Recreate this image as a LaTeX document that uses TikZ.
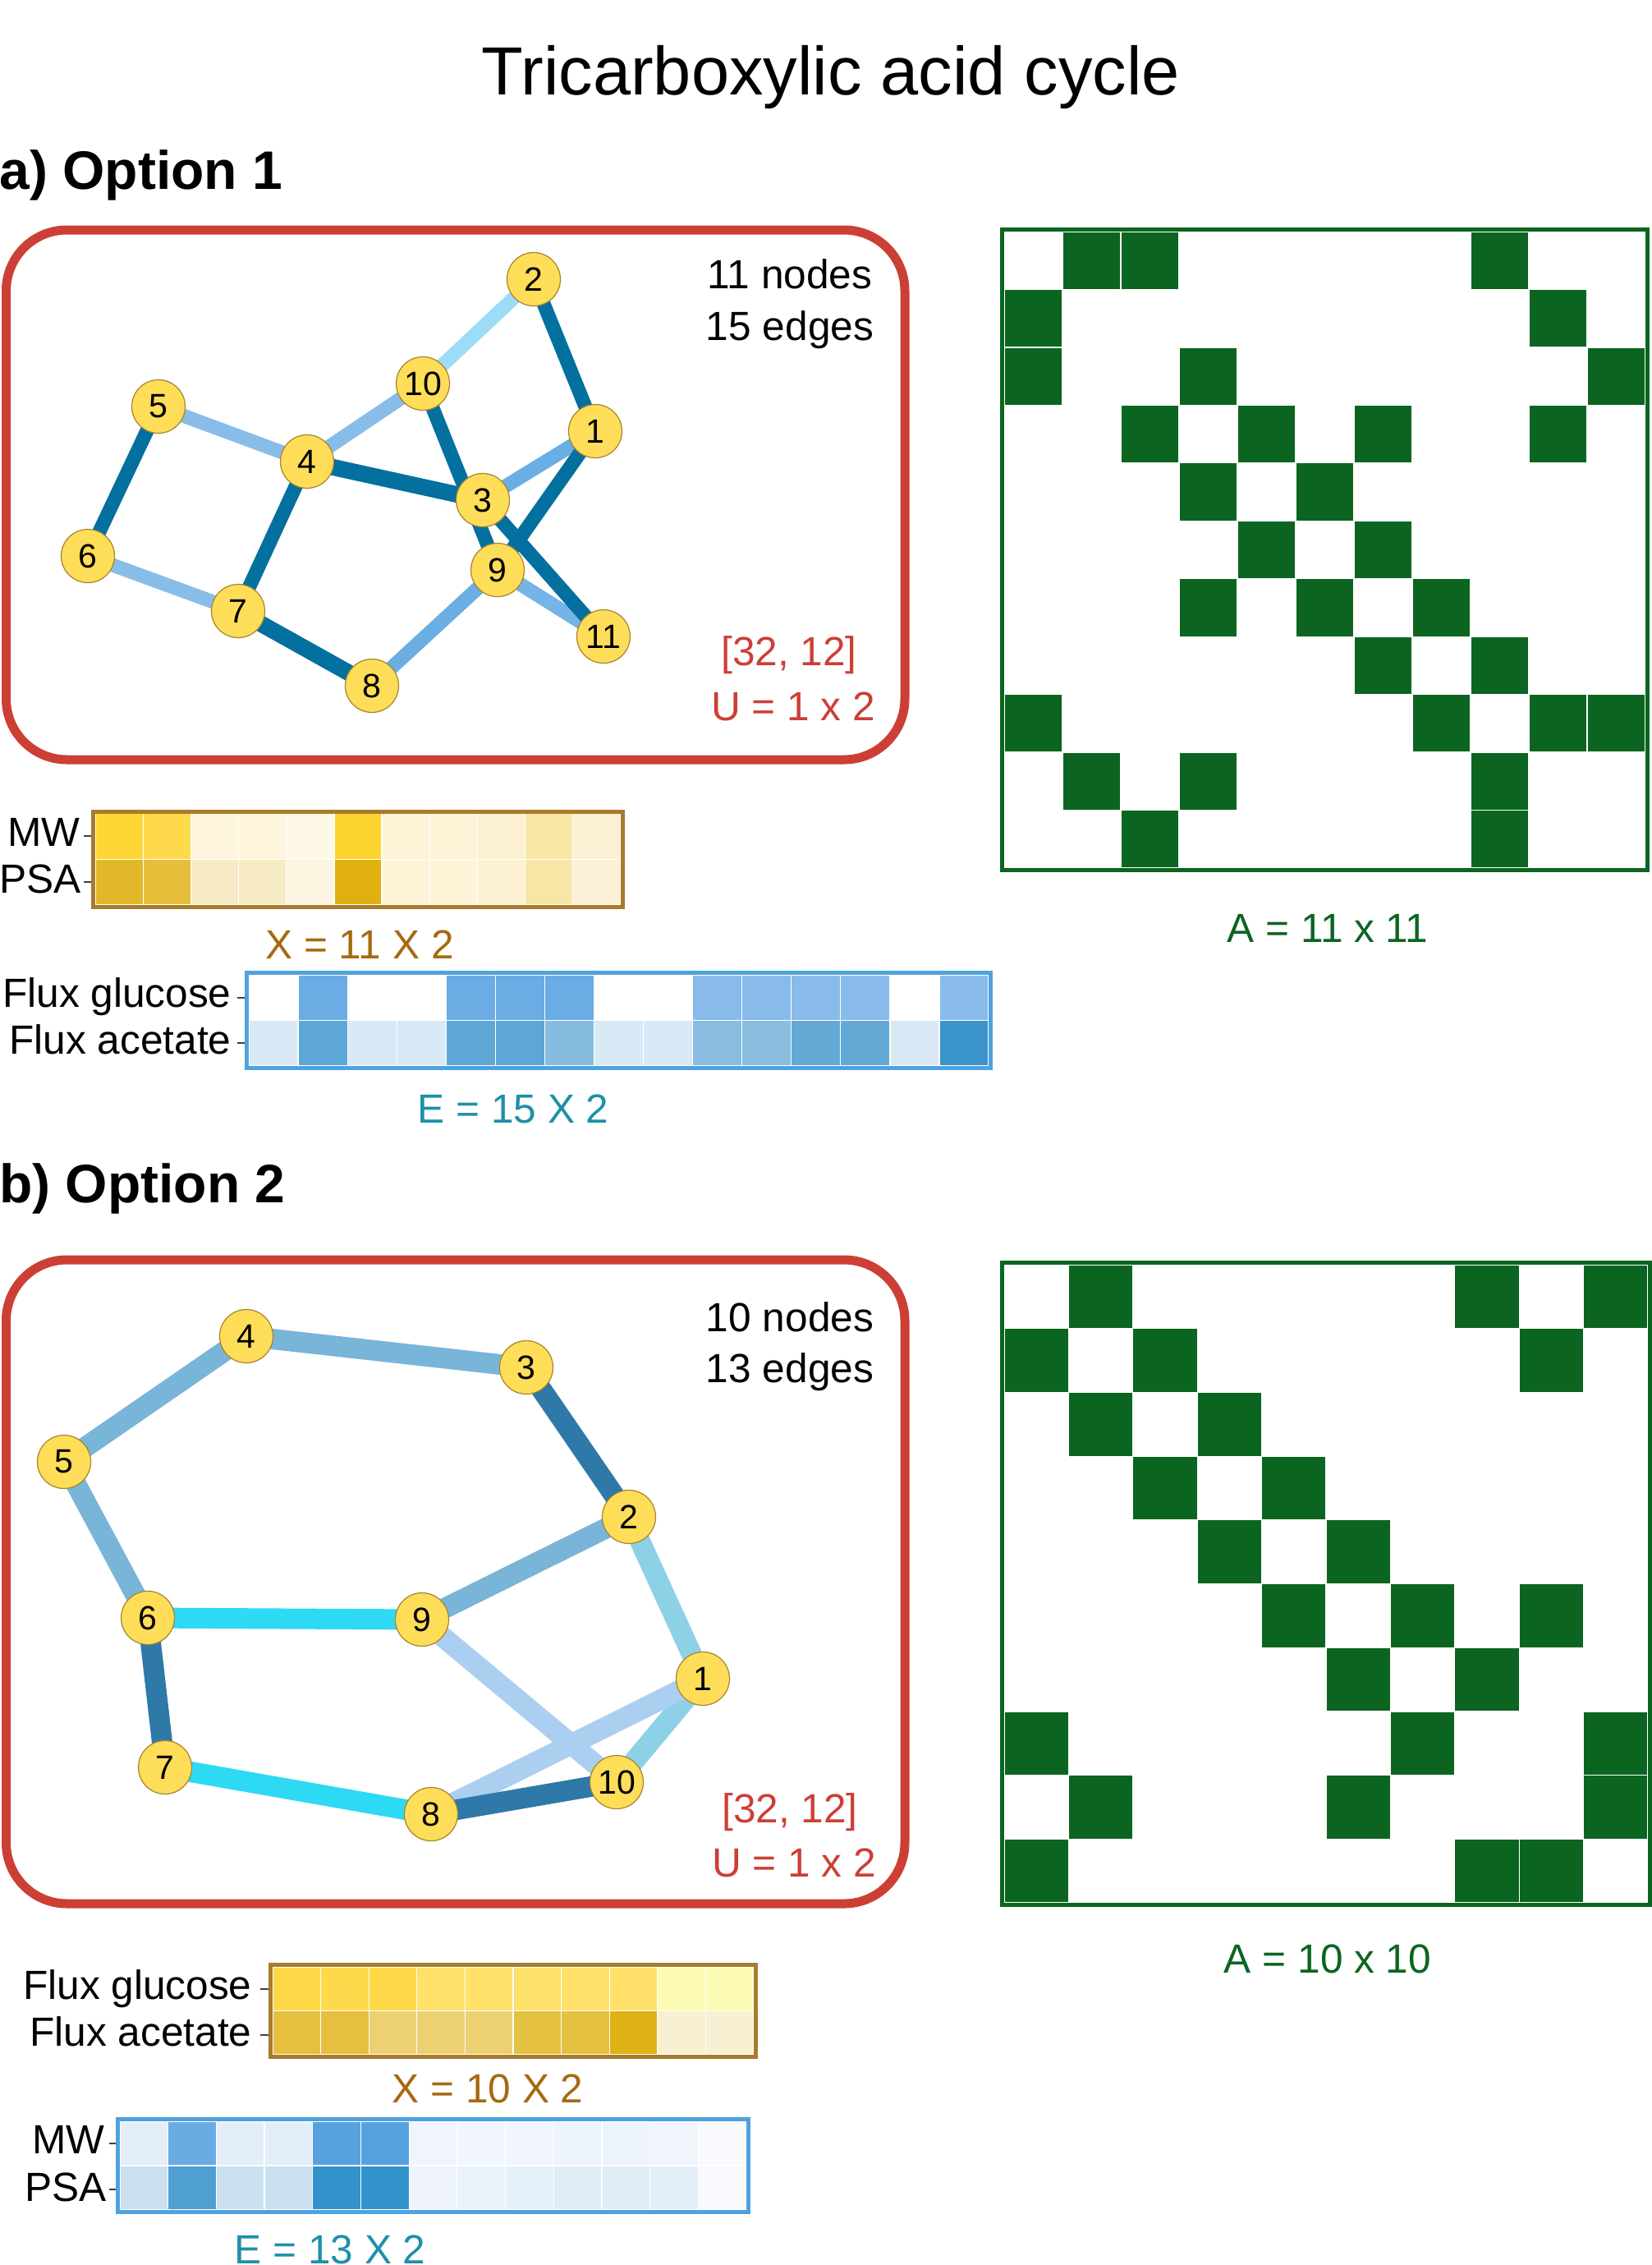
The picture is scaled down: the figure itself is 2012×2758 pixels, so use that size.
\documentclass[tikz,border=0pt]{standalone}
\usepackage{fontspec}
\setmainfont{Liberation Sans}
\definecolor{boxred}{HTML}{CC3F35}
\definecolor{nfill}{HTML}{FEDD58}
\definecolor{nline}{HTML}{A8822E}
\definecolor{edark}{HTML}{03709F}
\definecolor{elight}{HTML}{88BDE9}
\definecolor{emid}{HTML}{6AAEE3}
\definecolor{emid2}{HTML}{76B3E6}
\definecolor{esky}{HTML}{9DDCF6}
\definecolor{bdark}{HTML}{2E79A8}
\definecolor{bmid}{HTML}{78B5D9}
\definecolor{bcyan}{HTML}{2ED9F3}
\definecolor{blight}{HTML}{ABCFF0}
\definecolor{blcyan}{HTML}{8DD1E6}
\definecolor{matgreen}{HTML}{0B6520}
\definecolor{xborder}{HTML}{A97B2C}
\definecolor{eborder}{HTML}{4FA2E0}
\definecolor{xlab}{HTML}{A56A10}
\definecolor{elab}{HTML}{1E90A8}
\pgfdeclarelayer{edgelayer}
\pgfsetlayers{edgelayer,main}
\tikzset{
  txt/.style={inner sep=0pt, font=\fontsize{24.8}{28}\selectfont},
  gnode/.style={circle, fill=nfill, draw=nline, line width=0.6pt, minimum size=32.5pt, inner sep=0pt, font=\fontsize{20.5}{24}\selectfont},
  topedge/.style={line width=8.5pt},
  thickedge/.style={line width=10pt},
  botedge/.style={line width=12.5pt},
  redbox/.style={draw=boxred, line width=5.5pt, rounded corners=37pt},
  cellw/.style={draw=white, line width=0.6pt},
  matcell/.style={fill=matgreen, draw=white, line width=0.6pt},
  tickmark/.style={draw=black!75, line width=0.75pt},
}
\begin{document}
\begin{tikzpicture}[x=0.5pt,y=-0.5pt]
\useasboundingbox (0,0) rectangle (2012,2758);

% ---------- titles ----------
\node[inner sep=0pt, font=\fontsize{41.5}{48}\selectfont, anchor=base] (title) at (1012,115) {Tricarboxylic acid cycle};
\node[inner sep=0pt, font=\bfseries\fontsize{33}{38}\selectfont, anchor=base west] (secA) at (-1,230) {a) Option 1};
\node[inner sep=0pt, font=\bfseries\fontsize{33}{38}\selectfont, anchor=base west] (secB) at (-1,1464) {b) Option 2};

% ---------- section a: graph ----------
\draw[redbox] (7.5,280) rectangle (1102,925);
\node[gnode] (t1) at (725,525) {1};
\node[gnode] (t2) at (650,340) {2};
\node[gnode] (t3) at (588,609) {3};
\node[gnode] (t4) at (374,562) {4};
\node[gnode] (t5) at (193,495) {5};
\node[gnode] (t6) at (107,677) {6};
\node[gnode] (t7) at (290,744) {7};
\node[gnode] (t8) at (453,835) {8};
\node[gnode] (t9) at (606,694) {9};
\node[gnode] (t10) at (515,467) {10};
\node[gnode] (t11) at (735,775) {11};
\begin{pgfonlayer}{edgelayer}
  \draw[topedge, esky] (t2.center) -- (t10.center);
  \draw[topedge, elight] (t4.center) -- (t10.center);
  \draw[topedge, elight] (t4.center) -- (t5.center);
  \draw[topedge, elight] (t6.center) -- (t7.center);
  \draw[topedge, emid] (t1.center) -- (t3.center);
  \draw[topedge, emid] (t8.center) -- (t9.center);
  \draw[topedge, emid2] (t9.center) -- (t11.center);
  \draw[topedge, edark] (t1.center) -- (t2.center);
  \draw[topedge, edark] (t9.center) -- (t10.center);
  \draw[topedge, edark] (t3.center) -- (t11.center);
  \draw[topedge, edark] (t1.center) -- (t9.center);
  \draw[topedge, edark] (t4.center) -- (t7.center);
  \draw[topedge, edark] (t5.center) -- (t6.center);
  \draw[thickedge, edark] (t3.center) -- (t4.center);
  \draw[thickedge, edark] (t7.center) -- (t8.center);
\end{pgfonlayer}
\node[txt, anchor=base] (nA) at (962,351) {11 nodes};
\node[txt, anchor=base] (eA) at (962,414) {15 edges};
\node[txt, anchor=base, text=boxred] (sA) at (961,810) {[32, 12]};
\node[txt, anchor=base, text=boxred] (uA) at (966,877) {U = 1 x 2};

% ---------- section a: matrix ----------
\foreach \r/\cs in {1/{2,3,9},2/{1,10},3/{1,4,11},4/{3,5,7,10},5/{4,6},6/{5,7},7/{4,6,8},8/{7,9},9/{1,8,10,11},10/{2,4,9},11/{3,9}} {
  \foreach \c in \cs {
    \filldraw[matcell] (1223+\c*71-71, 282+\r*70.45-70.45) rectangle ++(71,70.45);
  }
}
\draw[matgreen, line width=2.5pt] (1220.5,279.5) rectangle (2006.5,1059.5);
\node[txt, anchor=base, text=matgreen] (aA) at (1617,1147) {A = 11 x 11};

% ---------- section a: X heatmap ----------
\foreach \c [count=\i from 0] in {FDD535,FDD94B,FEF6DC,FEF6DC,FEF8E7,FDD42D,FDF3D7,FDF3D7,FCF0D3,F9E7A6,FCF0D4} {
  \definecolor{cellc}{HTML}{\c}
  \filldraw[fill=cellc, cellw] (116+\i*58.18,990.5) rectangle ++(58.18,55.75);
}
\foreach \c [count=\i from 0] in {E2B828,E5BE3A,F7EBC5,F7EBC3,FAF4E0,DFB00F,FDF4D8,FDF4D8,FCF1D4,F8E6A7,FCF1D6} {
  \definecolor{cellc}{HTML}{\c}
  \filldraw[fill=cellc, cellw] (116+\i*58.18,1046.25) rectangle ++(58.18,55.75);
}
\draw[xborder, line width=2.5pt] (113.5,988) rectangle (758.5,1104.5);
\node[txt, anchor=base east] (mwA) at (98,1030) {MW};
\node[txt, anchor=base east] (psaA) at (99,1087) {PSA};
\draw[tickmark] (102,1018) -- (111,1018);
\draw[tickmark] (102,1074) -- (111,1074);
\node[txt, anchor=base, text=xlab] (xA) at (438,1167) {X = 11 X 2};

% ---------- section a: E heatmap ----------
\foreach \c [count=\i from 0] in {FFFFFF,6AACE3,FFFFFF,FFFFFF,6AACE3,6AACE3,6AACE3,FFFFFF,FFFFFF,88BBE9,88BBE9,88BBE9,88BBE9,FFFFFF,88BBE9} {
  \definecolor{cellc}{HTML}{\c}
  \filldraw[fill=cellc, cellw] (303+\i*60.07,1187) rectangle ++(60.07,55.5);
}
\foreach \c [count=\i from 0] in {D9E9F5,5CA7D6,D9E9F5,D9E9F5,5CA7D6,5CA7D6,86BCE0,D9E9F5,D9E9F5,88BDE0,88BDE0,62A9D6,62A9D6,D9E9F5,3B93CC} {
  \definecolor{cellc}{HTML}{\c}
  \filldraw[fill=cellc, cellw] (303+\i*60.07,1242.5) rectangle ++(60.07,55.5);
}
\draw[eborder, line width=2.5pt] (300.5,1184.5) rectangle (1206.5,1300.5);
\node[txt, anchor=base east] (fgA) at (282,1226) {Flux glucose};
\node[txt, anchor=base east] (faA) at (282,1283) {Flux acetate};
\draw[tickmark] (289,1215) -- (298,1215);
\draw[tickmark] (289,1270) -- (298,1270);
\node[txt, anchor=base, text=elab] (eAlab) at (625,1367) {E = 15 X 2};

% ---------- section b: graph ----------
\draw[redbox] (7.5,1534) rectangle (1102,2318);
\node[gnode] (b1) at (856,2044) {1};
\node[gnode] (b2) at (766,1847) {2};
\node[gnode] (b3) at (641,1665) {3};
\node[gnode] (b4) at (300,1627) {4};
\node[gnode] (b5) at (78,1780) {5};
\node[gnode] (b6) at (180,1970) {6};
\node[gnode] (b7) at (201,2152) {7};
\node[gnode] (b8) at (525,2209) {8};
\node[gnode] (b9) at (514,1972) {9};
\node[gnode] (b10) at (751,2170) {10};
\begin{pgfonlayer}{edgelayer}
  \draw[botedge, blcyan] (b1.center) -- (b2.center);
  \draw[botedge, blcyan] (b1.center) -- (b10.center);
  \draw[botedge, blight] (b9.center) -- (b10.center);
  \draw[botedge, blight] (b1.center) -- (b8.center);
  \draw[botedge, bmid] (b2.center) -- (b9.center);
  \draw[botedge, bmid] (b3.center) -- (b4.center);
  \draw[botedge, bmid] (b4.center) -- (b5.center);
  \draw[botedge, bmid] (b5.center) -- (b6.center);
  \draw[botedge, bcyan] (b6.center) -- (b9.center);
  \draw[botedge, bcyan] (b7.center) -- (b8.center);
  \draw[botedge, bdark] (b2.center) -- (b3.center);
  \draw[botedge, bdark] (b6.center) -- (b7.center);
  \draw[botedge, bdark] (b8.center) -- (b10.center);
\end{pgfonlayer}
\node[txt, anchor=base] (nB) at (962,1621) {10 nodes};
\node[txt, anchor=base] (eB) at (962,1683) {13 edges};
\node[txt, anchor=base, text=boxred] (sB) at (962,2219) {[32, 12]};
\node[txt, anchor=base, text=boxred] (uB) at (967,2285) {U = 1 x 2};

% ---------- section b: matrix ----------
\foreach \r/\cs in {1/{2,8,10},2/{1,3,9},3/{2,4},4/{3,5},5/{4,6},6/{5,7,9},7/{6,8},8/{1,7,10},9/{2,6,10},10/{1,8,9}} {
  \foreach \c in \cs {
    \filldraw[matcell] (1223+\c*78.4-78.4, 1540+\r*77.7-77.7) rectangle ++(78.4,77.7);
  }
}
\draw[matgreen, line width=2.5pt] (1220.5,1537.5) rectangle (2009.5,2319.5);
\node[txt, anchor=base, text=matgreen] (aB) at (1617,2402) {A = 10 x 10};

% ---------- section b: X heatmap ----------
\foreach \c [count=\i from 0] in {FDD948,FDDA4C,FDD948,FEE16B,FEE16B,FEE16B,FEE16B,FEE06B,FBFBB5,FBFBB5} {
  \definecolor{cellc}{HTML}{\c}
  \filldraw[fill=cellc, cellw] (332+\i*58.6,2395) rectangle ++(58.6,53.5);
}
\foreach \c [count=\i from 0] in {E5BF40,E5BF40,EDD072,EDD072,EDD072,E5C142,E5C142,DFB216,F8F0D3,F8F0D3} {
  \definecolor{cellc}{HTML}{\c}
  \filldraw[fill=cellc, cellw] (332+\i*58.6,2448.5) rectangle ++(58.6,53.5);
}
\draw[xborder, line width=2.5pt] (329.5,2392.5) rectangle (920.5,2504.5);
\node[txt, anchor=base east] (fgB) at (307,2434) {Flux glucose};
\node[txt, anchor=base east] (faB) at (307,2491) {Flux acetate};
\draw[tickmark] (317,2422) -- (327,2422);
\draw[tickmark] (317,2478) -- (327,2478);
\node[txt, anchor=base, text=xlab] (xB) at (594,2560) {X = 10 X 2};

% ---------- section b: E heatmap ----------
\foreach \c [count=\i from 0] in {E3EEF9,6AABE4,E3EEF9,E3EEF9,56A2DE,56A2DE,EFF5FB,F1F6FC,F1F6FC,EDF4FB,EDF4FB,EFF5FB,F8FAFD} {
  \definecolor{cellc}{HTML}{\c}
  \filldraw[fill=cellc, cellw] (146+\i*58.69,2583) rectangle ++(58.69,54);
}
\foreach \c [count=\i from 0] in {CBE1EF,4F9FD2,CBE1EF,CBE1EF,3292CB,3292CB,EEF4FA,EAF2F9,E6F0F8,E0ECF6,E0ECF6,E4EEF7,F8FAFD} {
  \definecolor{cellc}{HTML}{\c}
  \filldraw[fill=cellc, cellw] (146+\i*58.69,2637) rectangle ++(58.69,54);
}
\draw[eborder, line width=2.5pt] (143.5,2580.5) rectangle (911.5,2693.5);
\node[txt, anchor=base east] (mwB) at (128,2622) {MW};
\node[txt, anchor=base east] (psaB) at (130,2680) {PSA};
\draw[tickmark] (133,2610) -- (141,2610);
\draw[tickmark] (133,2666) -- (141,2666);
\node[txt, anchor=base, text=elab] (eBlab) at (402,2756) {E = 13 X 2};
\end{tikzpicture}
\end{document}
